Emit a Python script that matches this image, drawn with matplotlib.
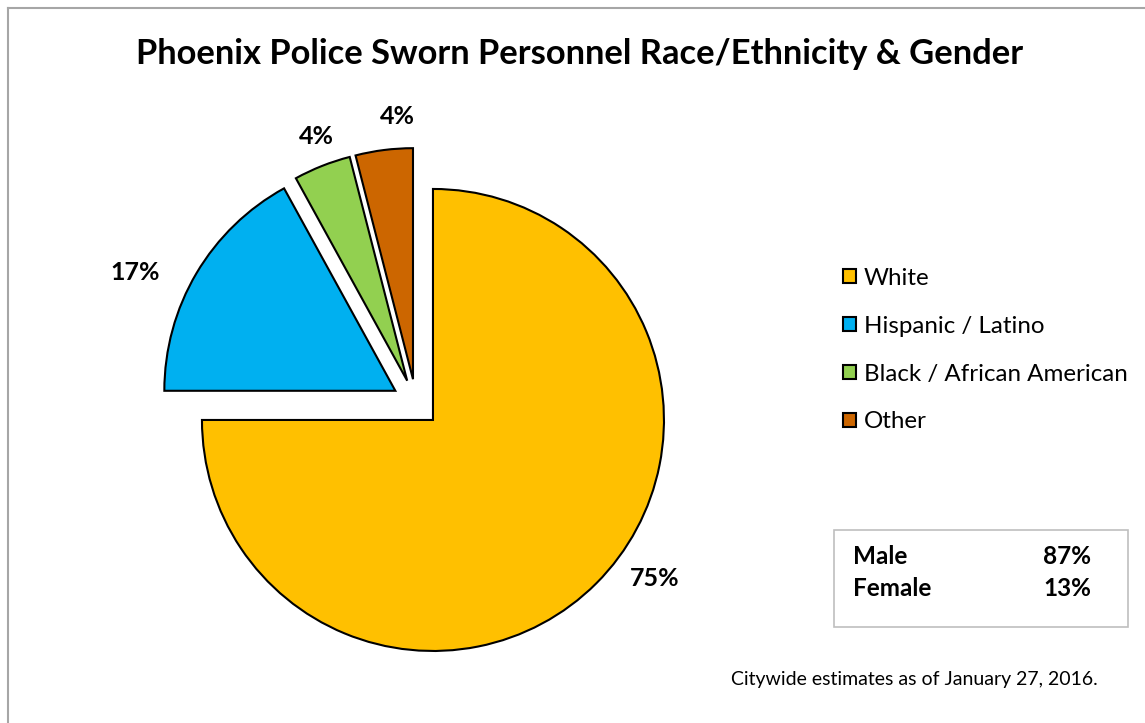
import matplotlib
matplotlib.use("Agg")
import matplotlib.pyplot as plt
from matplotlib.patches import Rectangle
from matplotlib.lines import Line2D

plt.rcParams['font.family'] = ['Lato', 'DejaVu Sans']

# data
races = ['White', 'Hispanic / Latino', 'Black / African American', 'Other']
shares = [75, 17, 4, 4]
colors = ['#FFC000', '#00B0F0', '#92D050', '#CC6600']
genders = ['Male', 'Female']
gender_shares = [87, 13]

W, H = 1145, 723
fig = plt.figure(figsize=(W / 100, H / 100), dpi=100)
# axes in pixel units, y measured upward
ax = fig.add_axes([0, 0, 1, 1])

cx, cy, r = 416, H - 403, 231
wedges, _ = ax.pie(shares, colors=colors, startangle=90, counterclock=False,
                   center=(cx, cy), radius=r, explode=[24] * 4, frame=True,
                   wedgeprops=dict(edgecolor='black', linewidth=1.5))
ax.set_xlim(0, W)
ax.set_ylim(0, H)
ax.set_aspect('equal')
ax.axis('off')

# percent labels
label_pos = [(655, 578), (135, 272), (316, 137), (397, 117)]
for (x, y), v in zip(label_pos, shares):
    ax.text(x, H - y, f'{v}%', ha='center', va='center', fontsize=18,
            fontweight='bold')

ax.text(580, H - 54, 'Phoenix Police Sworn Personnel Race/Ethnicity & Gender',
        ha='center', va='center', fontsize=24.8, fontweight='bold')

ax.legend(wedges, races, loc='upper left', bbox_to_anchor=(843 / W, 1 - 268 / H),
          frameon=False, fontsize=17.4, handlelength=0.52, handleheight=0.52,
          handletextpad=0.33, labelspacing=1.11, borderaxespad=0, borderpad=0)

# gender box
ax.add_patch(Rectangle((834, H - 627), 294, 97, facecolor='white',
                       edgecolor='#BFBFBF', linewidth=1.2))
for i, (g, s) in enumerate(zip(genders, gender_shares)):
    y = H - (556 + 32 * i)
    ax.text(853, y, g, ha='left', va='center', fontsize=17.5, fontweight='bold')
    ax.text(1091, y, f'{s}%', ha='right', va='center', fontsize=17.5,
            fontweight='bold')

ax.text(1098, H - 680, 'Citywide estimates as of January 27, 2016.',
        ha='right', va='center', fontsize=14)

# chart border (top and left visible)
ax.add_line(Line2D([8, W], [H - 8, H - 8], color='#A6A6A6', linewidth=1.5))
ax.add_line(Line2D([8, 8], [H - 8, 0], color='#A6A6A6', linewidth=1.5))

fig.savefig('out.png', dpi=100)
